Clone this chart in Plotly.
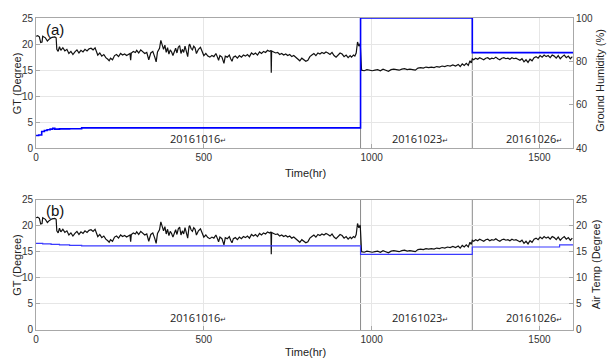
import plotly.graph_objects as go

# ---------------- data ----------------
gt_hours = [0, 5, 10, 14, 18, 20, 28, 34, 40, 48, 56, 60, 62, 66, 70, 74, 80, 86, 92, 98,
            104, 110, 116, 122, 128, 134, 140, 146, 152, 158, 164, 170, 176, 180, 184, 190, 196, 202, 208, 214,
            218, 222, 228, 234, 240, 246, 252, 258, 264, 270, 276, 280, 282, 284, 290, 296, 300, 306, 312, 318,
            324, 330, 336, 342, 348, 354, 358, 362, 368, 372, 376, 380, 384, 388, 392, 396, 400, 404, 408, 412,
            416, 420, 424, 428, 432, 436, 440, 444, 448, 452, 456, 458, 462, 466, 470, 474, 478, 484, 490, 496,
            500, 506, 512, 518, 524, 530, 536, 540, 544, 548, 554, 560, 564, 570, 576, 580, 584, 588, 594, 600,
            606, 612, 618, 624, 630, 636, 642, 648, 654, 660, 666, 672, 678, 684, 690, 696, 700, 701, 702, 708,
            714, 720, 726, 732, 738, 744, 750, 756, 762, 768, 774, 780, 786, 792, 798, 804, 810, 816, 822, 828,
            834, 840, 846, 852, 858, 864, 870, 876, 882, 888, 894, 900, 906, 912, 918, 924, 930, 936, 940, 946,
            950, 954, 958, 962, 966,
            970, 978, 986, 994, 1002, 1010, 1018, 1026, 1034, 1042, 1050, 1058, 1066, 1074, 1082, 1090, 1098,
            1106, 1114, 1122, 1130, 1138, 1146, 1154, 1162, 1170, 1178, 1186, 1194, 1202, 1210, 1218, 1226,
            1234, 1242, 1250, 1258, 1264, 1270, 1276, 1282, 1288, 1293, 1297, 1300,
            1304, 1310, 1316, 1322, 1328, 1334, 1340, 1346, 1352, 1358, 1364, 1370, 1376, 1382, 1388, 1394,
            1400, 1406, 1412, 1418, 1424, 1430, 1436, 1442, 1448, 1454, 1460, 1466, 1472, 1478, 1484, 1490,
            1496, 1502, 1508, 1514, 1520, 1526, 1532, 1538, 1544, 1550, 1556, 1562, 1568, 1574, 1580, 1586,
            1592, 1598]
gt_values = [21.5, 21.6, 21.4, 20.3, 20.4, 21.5, 21.2, 20.6, 21.0, 21.3, 21.4, 21.2, 19.0, 18.6, 19.5, 18.8, 19.3, 18.7, 19.0, 18.2,
             18.6, 18.0, 18.5, 18.9, 18.3, 18.8, 18.5, 19.0, 18.7, 19.1, 19.2, 18.9, 19.3, 18.6, 17.9, 18.3, 17.7, 18.0, 17.4, 17.1,
             16.8, 17.3, 17.0, 17.8, 18.0, 17.6, 18.2, 17.9, 18.1, 17.8, 18.0, 18.2, 16.9, 18.3, 18.6, 18.4, 18.8, 18.3, 18.9, 18.6,
             18.2, 18.4, 17.0, 18.3, 18.6, 17.5, 16.6, 18.5, 19.2, 20.7, 19.6, 19.0, 19.8, 18.4, 19.3, 18.1, 18.9, 18.5, 17.8, 18.6,
             19.2, 18.3, 19.4, 19.7, 18.2, 19.0, 18.4, 19.6, 18.8, 17.6, 19.8, 20.0, 19.2, 18.9, 19.6, 19.3, 18.2, 19.0, 19.4, 18.5,
             17.8, 18.2, 17.7, 17.5, 17.8, 17.6, 18.2, 17.6, 16.9, 17.8, 17.5, 16.3, 17.7, 17.5, 17.9, 17.2, 16.7, 17.5, 17.7, 17.3,
             17.8, 17.5, 17.9, 17.7, 18.0, 17.6, 18.3, 18.0, 18.3, 17.9, 18.5, 18.2, 18.6, 18.4, 18.8, 18.6, 18.8, 14.5, 18.7, 18.5,
             18.3, 18.4, 18.0, 18.2, 17.9, 18.1, 17.8, 18.0, 17.6, 17.8, 17.4, 17.0, 16.8, 17.3, 17.0, 16.7, 16.9, 17.6, 17.9, 18.2,
             17.8, 18.3, 18.1, 18.4, 18.2, 18.5, 18.3, 18.0, 18.4, 17.8, 17.5, 18.0, 18.3, 18.1, 17.6, 17.9, 17.4, 17.8, 17.5, 17.9,
             17.7, 18.3, 20.4, 19.6, 20.1,
             15.0, 14.9, 15.1, 15.0, 14.9, 15.0, 15.1, 14.9, 15.2, 15.0, 14.8, 15.1, 15.2, 15.1, 15.0, 15.2, 15.3,
             15.1, 15.2, 15.1, 15.0, 15.4, 15.5, 15.4, 15.6, 15.5, 15.6, 15.5, 15.7, 15.6, 15.8, 15.7, 15.9,
             15.8, 16.0, 15.8, 16.1, 15.7, 16.2, 15.9, 16.3, 15.9, 16.8, 16.4, 17.2,
             17.0, 17.3, 17.1, 17.4, 17.2, 17.0, 17.3, 17.4, 17.1, 17.3, 17.2, 17.5, 17.2, 17.0, 17.3, 17.4,
             17.2, 17.3, 17.1, 17.4, 17.2, 17.3, 17.1, 16.9, 17.2, 16.6, 17.0, 16.5, 17.1, 16.8, 17.4, 17.6,
             17.3, 17.8, 17.5, 17.9, 17.6, 17.8, 17.4, 17.9, 17.7, 17.3, 17.8, 17.2, 17.6, 17.9, 17.4, 17.7,
             17.2, 17.6]

hum_hours = [0, 8, 17, 25, 33, 42, 50, 56, 70, 100, 136, 967, 1300, 1600]
hum_values = [46.0, 46.2, 47.8, 48.3, 48.6, 48.9, 49.3, 48.9, 49.0, 49.1, 49.5, 100, 84.1, 84.1]

air_hours = [0, 20, 45, 70, 100, 136, 967, 1300, 1560, 1600]
air_values = [16.6, 16.5, 16.4, 16.3, 16.2, 16.1, 14.5, 15.9, 16.3, 16.3]

boundaries = [967, 1300]
date_labels = ["20161016", "20161023", "20161026"]
date_label_hours = [482, 1143, 1485]
x_ticks = [0, 500, 1000, 1500]

# ---------------- figure ----------------
W, H = 613, 359
ML, MR, MT, MB = 36, 40, 12, 29
PW, PH = W - ML - MR, H - MT - MB


def px2x(px):
    return (px - ML) / PW


def py2y(py):
    return (H - MB - py) / PH


TOP = [py2y(145), 1.0]
BOT = [0.0, py2y(197)]

fig = go.Figure()

line_black = dict(color="#111111", width=1.2)
fig.add_trace(go.Scatter(x=gt_hours, y=gt_values, mode="lines", line=line_black,
                         xaxis="x", yaxis="y", showlegend=False))
fig.add_trace(go.Scatter(x=hum_hours, y=hum_values, mode="lines",
                         line=dict(color="#0000ff", width=1.6, shape="hv"),
                         xaxis="x", yaxis="y2", showlegend=False))
fig.add_trace(go.Scatter(x=gt_hours, y=gt_values, mode="lines", line=line_black,
                         xaxis="x2", yaxis="y3", showlegend=False))
fig.add_trace(go.Scatter(x=air_hours, y=air_values, mode="lines",
                         line=dict(color="#3a3aff", width=1.2, shape="hv"),
                         xaxis="x2", yaxis="y4", showlegend=False))

tick_font = dict(family="Liberation Sans Narrow, Liberation Sans, Arial", size=10, color="#333333")
axis_common = dict(showline=True, linecolor="#a8a8a8", linewidth=1, ticks="inside", ticklen=4,
                   tickcolor="#a8a8a8", tickfont=tick_font, zeroline=False)

fig.update_layout(
    width=W, height=H, margin=dict(l=ML, r=MR, t=MT, b=MB),
    paper_bgcolor="white", plot_bgcolor="white",
    xaxis=dict(domain=[0, 1], range=[0, 1600], tickvals=x_ticks, anchor="y",
               showgrid=True, gridcolor="#e6e6e6", mirror=True, **axis_common),
    yaxis=dict(domain=TOP, range=[0, 25], tickvals=[0, 5, 10, 15, 20, 25], anchor="x",
               showgrid=True, gridcolor="#e6e6e6", mirror=True, **axis_common),
    yaxis2=dict(overlaying="y", side="right", range=[40, 100], tickvals=[40, 60, 80, 100],
                anchor="x", showgrid=False, **axis_common),
    xaxis2=dict(domain=[0, 1], range=[0, 1600], tickvals=x_ticks, anchor="y3",
                showgrid=True, gridcolor="#e6e6e6", mirror=True, **axis_common),
    yaxis3=dict(domain=BOT, range=[0, 25], tickvals=[0, 5, 10, 15, 20, 25], anchor="x2",
                showgrid=True, gridcolor="#e6e6e6", mirror=True, **axis_common),
    yaxis4=dict(overlaying="y3", side="right", range=[0, 25], tickvals=[0, 5, 10, 15, 20, 25],
                anchor="x2", showgrid=False, **axis_common),
)

# separators
for b in boundaries:
    fig.add_shape(type="line", xref="x", yref="y domain", x0=b, x1=b, y0=0, y1=1,
                  line=dict(color="#8a8a8a", width=1), layer="below")
    fig.add_shape(type="line", xref="x2", yref="y3 domain", x0=b, x1=b, y0=0, y1=1,
                  line=dict(color="#8a8a8a", width=1), layer="below")

title_font = dict(family="Liberation Sans, Arial", size=11, color="#222222")
date_font = dict(family="Open Sans, DejaVu Sans", size=11, color="#222222")

# date labels
for lab, hx in zip(date_labels, date_label_hours):
    txt = lab + "<span style='font-size:7px'>↵</span>"
    fig.add_annotation(x=hx, y=py2y(135), xref="x", yref="paper", text=txt, showarrow=False,
                       font=date_font, xanchor="center", yanchor="middle")
    fig.add_annotation(x=hx, y=py2y(317), xref="x2", yref="paper", text=txt, showarrow=False,
                       font=date_font, xanchor="center", yanchor="middle")

# panel labels
fig.add_annotation(x=px2x(44), y=py2y(24), xref="paper", yref="paper", text="(a)", showarrow=False,
                   font=dict(family="Liberation Sans, Arial", size=15, color="#111111"),
                   xanchor="left", yanchor="middle")
fig.add_annotation(x=px2x(44), y=py2y(208), xref="paper", yref="paper", text="(b)", showarrow=False,
                   font=dict(family="Liberation Sans, Arial", size=15, color="#111111"),
                   xanchor="left", yanchor="middle")

# axis titles
fig.add_annotation(x=px2x(17), y=py2y(78.5), xref="paper", yref="paper", text="GT (Degree)",
                   textangle=-90, showarrow=False, font=title_font, xanchor="center", yanchor="middle")
fig.add_annotation(x=px2x(17), y=py2y(263.5), xref="paper", yref="paper", text="GT (Degree)",
                   textangle=-90, showarrow=False, font=title_font, xanchor="center", yanchor="middle")
fig.add_annotation(x=px2x(600), y=py2y(76), xref="paper", yref="paper", text="Ground Humidity (%)",
                   textangle=-90, showarrow=False, font=title_font, xanchor="center", yanchor="middle")
fig.add_annotation(x=px2x(596), y=py2y(263), xref="paper", yref="paper", text="Air Temp (Degree)",
                   textangle=-90, showarrow=False, font=title_font, xanchor="center", yanchor="middle")
fig.add_annotation(x=px2x(305), y=py2y(170), xref="paper", yref="paper", text="Time(hr)",
                   showarrow=False, font=title_font, xanchor="center", yanchor="middle")
fig.add_annotation(x=px2x(305), y=py2y(352), xref="paper", yref="paper", text="Time(hr)",
                   showarrow=False, font=title_font, xanchor="center", yanchor="middle")

fig.write_html("out.html")
